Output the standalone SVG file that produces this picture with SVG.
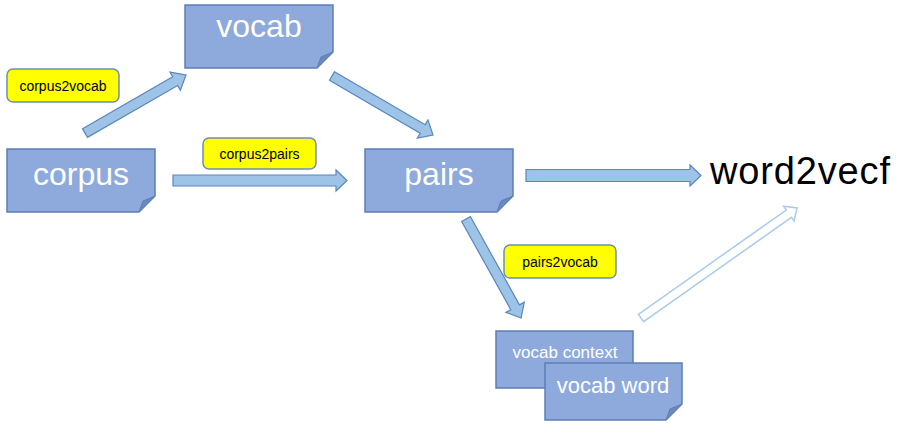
<svg xmlns="http://www.w3.org/2000/svg" width="900" height="436" viewBox="0 0 900 436">
<style>
.note{fill:#8EA9DB;stroke:#5B7FB5;stroke-width:1.5}
.fold{fill:#6B88C0;stroke:#5B7FB5;stroke-width:1}
.nt{font-family:"Liberation Sans",Arial,sans-serif;fill:#ffffff;text-anchor:middle}
.lbl{fill:#FFFF00;stroke:#6F8FB0;stroke-width:1.5}
.lt{font-family:"Liberation Sans",Arial,sans-serif;font-size:14px;fill:#000;text-anchor:middle}
.arr{fill:#9DC3E6;stroke:#5A86BE;stroke-width:1.2}
.harr{fill:#ffffff;stroke:#A9CBEC;stroke-width:1.5}
</style>
<rect width="900" height="436" fill="#ffffff"/>
<g id="connectors">
<g transform="translate(85,133) rotate(-29.9)"><polygon class="arr" points="0,-5 104,-5 104,-10.5 116.5,0 104,10.5 104,5 0,5"/></g>
<g transform="translate(332,76) rotate(30.3)"><polygon class="arr" points="0,-5 105,-5 105,-10.5 117,0 105,10.5 105,5 0,5"/></g>
<g transform="translate(173,180.5)"><polygon class="arr" points="0,-5.5 163,-5.5 163,-10.5 174,0 163,10.5 163,5.5 0,5.5"/></g>
<g transform="translate(526,175.5)"><polygon class="arr" points="0,-6 164,-6 164,-10.5 175,0 164,10.5 164,6 0,6"/></g>
<g transform="translate(466,219) rotate(60.9)"><polygon class="arr" points="0,-5 101,-5 101,-10.5 113.3,0 101,10.5 101,5 0,5"/></g>
<g transform="translate(641,318) rotate(-35.2)"><polygon class="harr" points="0,-4.5 181,-4.5 181,-9 191,0 181,9 181,4.5 0,4.5"/></g>
</g>
<g id="corpus" transform="translate(7,149)">
<polygon class="note" points="0,0 148,0 148,47 132,63 0,63"/>
<polygon class="fold" points="148,47 132,63 136,52"/>
<text class="nt" x="74" y="36" font-size="32">corpus</text>
</g>
<g id="vocab" transform="translate(185,5)">
<polygon class="note" points="0,0 148,0 148,47 132,63 0,63"/>
<polygon class="fold" points="148,47 132,63 136,52"/>
<text class="nt" x="74" y="32" font-size="32">vocab</text>
</g>
<g id="pairs" transform="translate(365,149)">
<polygon class="note" points="0,0 148,0 148,47 132,63 0,63"/>
<polygon class="fold" points="148,47 132,63 136,52"/>
<text class="nt" x="74" y="36" font-size="32">pairs</text>
</g>
<g id="word2vecf">
<text x="800" y="184" font-family="Liberation Sans,Arial,sans-serif" font-size="38" fill="#000" text-anchor="middle" textLength="180">word2vecf</text>
</g>
<g id="vocab_context" transform="translate(496,331)">
<polygon class="note" points="0,0 137,0 137,57 0,57"/>
<text class="nt" x="69" y="27" font-size="17">vocab context</text>
</g>
<g id="vocab_word" transform="translate(545,363)">
<polygon class="note" points="0,0 137,0 137,41 121,57 0,57"/>
<polygon class="fold" points="137,41 121,57 125,46"/>
<text class="nt" x="68" y="30" font-size="22">vocab word</text>
</g>
<g id="corpus2vocab">
<rect class="lbl" x="7" y="69" width="112" height="33" rx="6"/>
<text class="lt" x="63" y="90.5">corpus2vocab</text>
</g>
<g id="corpus2pairs">
<rect class="lbl" x="203" y="138" width="113" height="31" rx="6"/>
<text class="lt" x="259.5" y="158.5">corpus2pairs</text>
</g>
<g id="pairs2vocab">
<rect class="lbl" x="504" y="245" width="112" height="33" rx="6"/>
<text class="lt" x="560" y="266.5">pairs2vocab</text>
</g>
</svg>
